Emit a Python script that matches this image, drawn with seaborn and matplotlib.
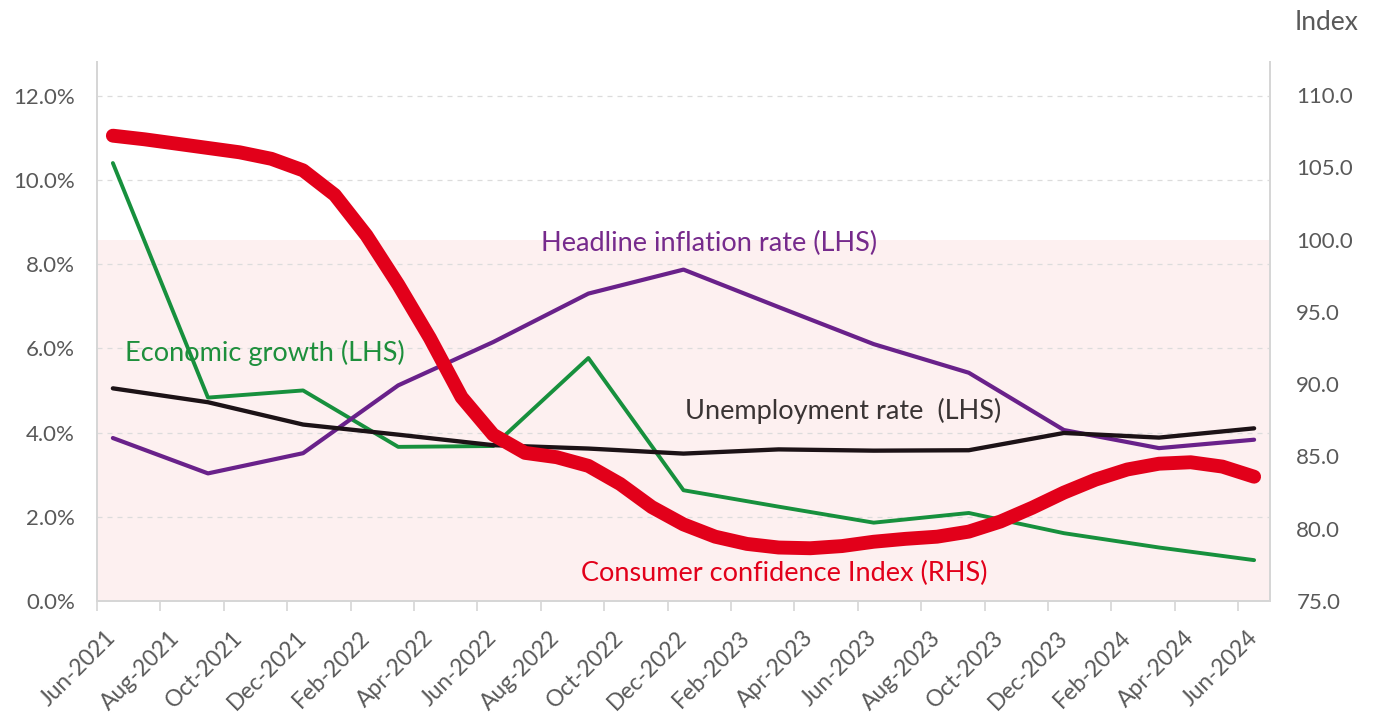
import matplotlib
matplotlib.use("Agg")
import matplotlib.pyplot as plt
import matplotlib.transforms as mtransforms
from matplotlib.patches import Rectangle
from matplotlib.ticker import FixedLocator, FuncFormatter
import pandas as pd
import seaborn as sns

# ── Data ────────────────────────────────────────────────────────
MONTHS = pd.period_range("2021-06", "2024-06", freq="M")

QUARTERS = ["2021-06", "2021-09", "2021-12", "2022-03", "2022-06", "2022-09", "2022-12",
            "2023-03", "2023-06", "2023-09", "2023-12", "2024-03", "2024-06"]
GROWTH = [10.40, 4.83, 5.00, 3.66, 3.68, 5.77, 2.63, 2.24, 1.86, 2.09, 1.61, 1.27, 0.97]
INFLATION = [3.87, 3.03, 3.51, 5.12, 6.15, 7.30, 7.87, 6.98, 6.10, 5.42, 4.06, 3.63, 3.83]
UNEMPLOYMENT = [5.05, 4.72, 4.19, 3.95, 3.70, 3.62, 3.50, 3.60, 3.57, 3.58, 3.99, 3.88, 4.10]

# consumer confidence index, monthly Jun-2021 .. Jun-2024
CONFIDENCE = [107.2, 106.95, 106.65, 106.35, 106.05, 105.6, 104.8, 103.1, 100.3, 96.9,
              93.2, 89.1, 86.5, 85.25, 84.95, 84.35, 83.1, 81.5, 80.3, 79.45,
              78.95, 78.7, 78.65, 78.8, 79.1, 79.3, 79.45, 79.8, 80.5, 81.45,
              82.5, 83.4, 84.1, 84.5, 84.6, 84.3, 83.6]

TICK_LABELS = ["Jun-2021", "Aug-2021", "Oct-2021", "Dec-2021", "Feb-2022", "Apr-2022",
               "Jun-2022", "Aug-2022", "Oct-2022", "Dec-2022", "Feb-2023", "Apr-2023",
               "Jun-2023", "Aug-2023", "Oct-2023", "Dec-2023", "Feb-2024", "Apr-2024",
               "Jun-2024"]
LHS_TICKS = [0, 2, 4, 6, 8, 10, 12]
RHS_TICKS = [75, 80, 85, 90, 95, 100, 105, 110]
PESSIMISM_BAND = (75, 100)

# ── Style ──────────────────────────────────────────────────────
sns.set_theme(style="white")
plt.rcParams["font.family"] = ["Lato", "DejaVu Sans"]

GREEN = "#17903d"
PURPLE = "#69218a"
BLACK = "#1c1216"
RED = "#e2001a"
GREY_TXT = "#595959"
SPINE = "#d6d6d6"

month_pos = {p: i for i, p in enumerate(MONTHS)}
qx = [month_pos[pd.Period(q, freq="M")] for q in QUARTERS]
mx = list(range(len(MONTHS)))

fig = plt.figure(figsize=(13.84, 7.2), dpi=100)
ax1 = fig.add_axes([0.0701, 0.1653, 0.8475, 0.7486])
ax2 = ax1.twinx()

ax1.set_xlim(-0.5, len(MONTHS) - 0.5)
ax1.set_ylim(0, 12.8)
ax2.set_ylim(75, 112.3)

# pink band (index below 100) drawn on the left axes so it stays behind everything
band_tr = mtransforms.blended_transform_factory(ax1.transAxes, ax2.transData)
ax1.add_patch(Rectangle((0, PESSIMISM_BAND[0]), 1, PESSIMISM_BAND[1] - PESSIMISM_BAND[0],
                        transform=band_tr, facecolor="#fdf0f0", edgecolor="none", zorder=0))

sns.lineplot(x=qx, y=GROWTH, ax=ax1, color=GREEN, lw=2.8, zorder=3)
sns.lineplot(x=qx, y=INFLATION, ax=ax1, color=PURPLE, lw=3.0, zorder=3)
sns.lineplot(x=qx, y=UNEMPLOYMENT, ax=ax1, color=BLACK, lw=3.1, zorder=4)
sns.lineplot(x=mx, y=CONFIDENCE, ax=ax2, color=RED, lw=10,
             solid_capstyle="round", solid_joinstyle="round")

# grid
ax1.set_axisbelow(True)
ax1.yaxis.set_major_locator(FixedLocator(LHS_TICKS))
ax1.yaxis.grid(True, color="#dcdcdc", linestyle=(0, (4, 4)), lw=0.9)
ax1.xaxis.grid(False)
ax2.grid(False)

ax1.yaxis.set_major_formatter(FuncFormatter(lambda v, _: f"{v:.1f}%"))
ax2.yaxis.set_major_locator(FixedLocator(RHS_TICKS))
ax2.yaxis.set_major_formatter(FuncFormatter(lambda v, _: f"{v:.1f}"))

# x axis: labels centred on months, tick marks on slot edges
ax1.xaxis.set_major_locator(FixedLocator(mx[::2]))
ax1.set_xticklabels(TICK_LABELS)
ax1.xaxis.set_minor_locator(FixedLocator([i - 0.5 for i in mx[::2]]))
ax1.tick_params(axis="x", which="major", length=0, pad=24, labelsize=16.5, labelcolor=GREY_TXT)
ax1.tick_params(axis="x", which="minor", length=7, width=1.2, color=SPINE, bottom=True)
for lab in ax1.get_xticklabels():
    lab.set_rotation(45)
    lab.set_rotation_mode("anchor")
    lab.set_ha("right")
    lab.set_va("center")

ax1.tick_params(axis="y", length=0, pad=16, labelsize=16, labelcolor=GREY_TXT)
ax2.tick_params(axis="y", length=0, pad=19, labelsize=16, labelcolor=GREY_TXT)

for ax in (ax1, ax2):
    ax.spines["top"].set_visible(False)
    for s in ("left", "right", "bottom"):
        ax.spines[s].set_color(SPINE)
        ax.spines[s].set_linewidth(1.4)

# series labels
ax1.text(13.52, 8.49, "Headline inflation rate (LHS)", color="#762a8c", fontsize=19.5, va="center")
ax1.text(0.39, 5.88, "Economic growth (LHS)", color="#1e8f3c", fontsize=19.5, va="center")
ax1.text(18.04, 4.51, "Unemployment rate  (LHS)", color="#3a3434", fontsize=19.5, va="center")
ax1.text(14.78, 0.66, "Consumer confidence Index (RHS)", color=RED, fontsize=19.5, va="center")

fig.text(0.9357, 0.969, "Index", color=GREY_TXT, fontsize=19, va="center", ha="left")

fig.savefig("out.png", dpi=100)
